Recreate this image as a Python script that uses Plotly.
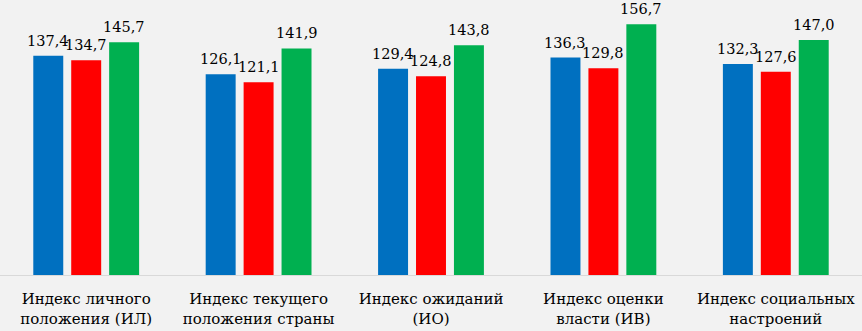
import plotly.graph_objects as go

categories = [
    "Индекс личного<br>положения (ИЛ)",
    "Индекс текущего<br>положения страны",
    "Индекс ожиданий<br>(ИО)",
    "Индекс оценки<br>власти (ИВ)",
    "Индекс социальных<br>настроений",
]
series_1 = [137.4, 126.1, 129.4, 136.3, 132.3]
series_2 = [134.7, 121.1, 124.8, 129.8, 127.6]
series_3 = [145.7, 141.9, 143.8, 156.7, 147.0]
colors = ["#0070C0", "#FF0000", "#00B050"]

FONT = "DejaVu Serif, serif"

def fmt(v):
    return f"{v:.1f}".replace(".", ",")

fig = go.Figure()
for vals, col in zip([series_1, series_2, series_3], colors):
    fig.add_trace(go.Bar(
        x=categories, y=vals, marker_color=col, marker_line_width=0,
        hoverinfo="skip",
    ))

slot = 38
for i, vals in enumerate([series_1, series_2, series_3]):
    for c, v in zip(categories, vals):
        fig.add_annotation(
            x=c, y=v, text=fmt(v), showarrow=False,
            xshift=(i - 1) * slot, yanchor="bottom", yshift=5,
            font=dict(family=FONT, size=14.5, color="#000000"),
        )

fig.update_layout(
    width=862, height=331,
    margin=dict(l=0, r=0, t=0, b=56),
    paper_bgcolor="#F2F2F2", plot_bgcolor="#F2F2F2",
    barmode="group", bargap=0.34, bargroupgap=0.21,
    showlegend=False,
    font=dict(family=FONT, size=15, color="#000000"),
    xaxis=dict(showline=True, linecolor="#D9D9D9", linewidth=1, ticks="",
               automargin=False, ticklabelstandoff=10,
               tickfont=dict(family=FONT, size=15, color="#000000")),
    yaxis=dict(range=[3, 171.6], visible=False, showgrid=False, zeroline=False,
               automargin=False),
)
fig.write_html("out.html", config={"displayModeBar": False},
               post_script="document.body.style.margin='0';")
